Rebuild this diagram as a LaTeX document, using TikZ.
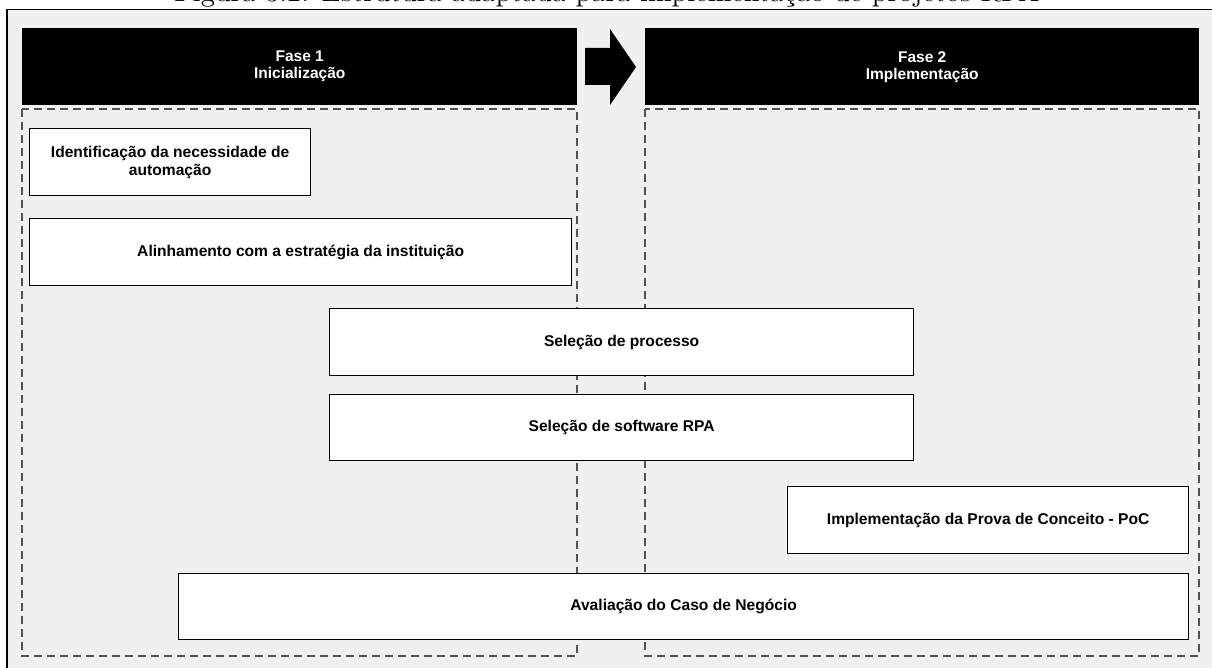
\documentclass[tikz,border=0pt]{standalone}
\usepackage{fontspec}
\setsansfont{Liberation Sans}
\begin{document}
\begin{tikzpicture}[x=1pt,y=-1pt,
  phasebar/.style={fill=black,draw=none,text=white,align=center,
    font=\sffamily\bfseries\fontsize{15.5}{17}\selectfont,
    minimum width=555pt,minimum height=77pt,inner sep=0pt,anchor=north west},
  stagebox/.style={draw=black,line width=1.3pt,fill=white,align=center,
    font=\sffamily\bfseries\fontsize{15.6}{18}\selectfont,
    inner sep=0pt,anchor=north west},
  phasezone/.style={draw=black!68,line width=1.3pt,dash pattern=on 8pt off 5pt},
]
\useasboundingbox (0,0) rectangle (1212,668);

% page background and outer frame
\fill[white] (0,0) rectangle (1212,668);
\draw[fill=black!6,line width=1.2pt] (7,9.5) rectangle (1230,690);

% caption, partly above the visible page
\node[anchor=base,inner sep=0pt] (caption) at (607,1.5)
  {\resizebox{865pt}{!}{Figura 3.2: Estrutura adaptada para implementação de projetos RPA}};

% phase zones
\draw[phasezone] (22,109) rectangle (577,656);
\draw[phasezone] (645,109) rectangle (1199,656);

% phase headers
\node[phasebar] (fase1) at (22,28) {Fase 1\\Inicialização};
\node[phasebar,minimum width=554pt] (fase2) at (645,28) {Fase 2\\Implementação};

% arrow between the phases
\fill[black] (585,48) -- (610,48) -- (610,29) -- (636,67) -- (610,105)
  -- (610,85) -- (585,85) -- cycle;

% stages
\node[stagebox,minimum width=281pt,minimum height=67pt] (ident) at (29,128)
  {Identificação da necessidade de\\automação};
\node[stagebox,minimum width=542pt,minimum height=67pt] (alinh) at (29,218)
  {Alinhamento com a estratégia da instituição};
\node[stagebox,minimum width=584pt,minimum height=67pt] (selproc) at (329,308)
  {Seleção de processo};
\node[stagebox,minimum width=584pt,minimum height=66pt] (selsoft) at (329,394)
  {Seleção de software RPA};
\node[stagebox,minimum width=401pt,minimum height=67pt] (poc) at (787,486)
  {Implementação da Prova de Conceito - PoC};
\node[stagebox,minimum width=1010pt,minimum height=66pt] (aval) at (178,573)
  {Avaliação do Caso de Negócio};
\end{tikzpicture}
\end{document}
